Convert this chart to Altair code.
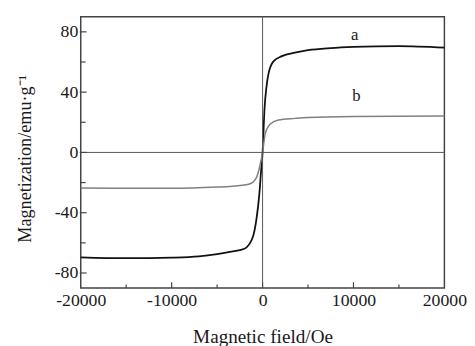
import altair as alt
import pandas as pd

# Curve a (black)
field_a = [-20000, -15000, -10000, -7000, -5000, -3600, -2000, -1080, -650, -360, -170, 0,
           220, 410, 690, 1230, 2130, 3570, 5000, 7500, 10000, 15000, 20000]
mag_a = [-69.6, -70.2, -69.8, -69.0, -67.5, -66.0, -63.9, -56.3, -43.3, -28.0, -13.0, 0.0,
         29.5, 42.5, 53.3, 60.6, 63.9, 66.2, 67.8, 69.2, 70.0, 70.6, 69.6]

# Curve b (gray)
field_b = [-20000, -10000, -5000, -3600, -1440, -710, -280, 0, 290, 830, 1730, 3570, 5000, 10000, 20000]
mag_b = [-23.6, -23.8, -23.0, -22.6, -21.0, -17.1, -8.5, 0.0, 12.2, 18.7, 21.5, 22.6, 23.2, 23.8, 24.1]

# Curve labels
label_text = ["a", "b"]
label_x = [10130, 10310]
label_y = [74.6, 33.8]

# Axis ticks
x_tick_labels = [-20000, -10000, 0, 10000, 20000]
y_tick_labels = [-80, -40, 0, 40, 80]
x_major_ticks = [-10000, 0, 10000]
x_minor_ticks = [-15000, -5000, 5000, 15000]
y_major_ticks = [-80, -40, 0, 40, 80]
y_minor_ticks = [-60, -20, 20, 60]

W, H = 370, 276
FONT = "Liberation Serif"
XT = "Magnetic field/Oe"
YT = "Magnetization/emu·g⁻¹"

xs = alt.Scale(domain=[-20000, 20000], nice=False, zero=False)
ys = alt.Scale(domain=[-90, 90], nice=False, zero=False)

x_axis = alt.Axis(
    values=x_tick_labels, labelExpr="'' + datum.value", grid=False, domain=False, ticks=False,
    labelPadding=4, labelFont=FONT, labelFontSize=18, labelColor="#1a1a1a", labelFlush=False,
    titleFont=FONT, titleFontSize=19.5, titleFontWeight="normal", titleColor="#1a1a1a",
    titleBaseline="alphabetic", titleY=55, titleX=185, titleAlign="center")
y_axis = alt.Axis(
    values=y_tick_labels, labelExpr="'' + datum.value", grid=False, domain=False, ticks=False,
    labelPadding=3, labelFont=FONT, labelFontSize=18, labelColor="#1a1a1a",
    titleFont=FONT, titleFontSize=18.5, titleFontWeight="normal", titleColor="#1a1a1a",
    titleAngle=-90, titleBaseline="middle", titleAlign="center", titleX=-57, titleY=144)

XA = alt.X("H:Q", scale=xs, title=XT, axis=x_axis)
YA = alt.Y("M:Q", scale=ys, title=YT, axis=y_axis)
X = alt.X("H:Q", scale=xs, title=XT)
Y = alt.Y("M:Q", scale=ys, title=YT)

df_a = pd.DataFrame({"H": field_a, "M": mag_a})
df_b = pd.DataFrame({"H": field_b, "M": mag_b})

line_a = alt.Chart(df_a).mark_line(color="#111111", strokeWidth=1.8, interpolate="monotone").encode(
    x=XA, y=YA)
line_b = alt.Chart(df_b).mark_line(color="#808080", strokeWidth=1.5, interpolate="monotone").encode(
    x=X, y=Y)

zero_v = alt.Chart(pd.DataFrame({"H": [0]})).mark_rule(color="#555555", strokeWidth=1).encode(x=X)
zero_h = alt.Chart(pd.DataFrame({"M": [0]})).mark_rule(color="#555555", strokeWidth=1).encode(y=Y)

xmaj = alt.Chart(pd.DataFrame({"H": x_major_ticks})).mark_rule(color="#444444", strokeWidth=1.2).encode(
    x=X, y=alt.value(H), y2=alt.value(H - 6))
xmin = alt.Chart(pd.DataFrame({"H": x_minor_ticks})).mark_rule(color="#444444", strokeWidth=1.2).encode(
    x=X, y=alt.value(H), y2=alt.value(H - 3.5))
ymaj = alt.Chart(pd.DataFrame({"M": y_major_ticks})).mark_rule(color="#444444", strokeWidth=1.2).encode(
    y=Y, x=alt.value(-1), x2=alt.value(6))
ymin = alt.Chart(pd.DataFrame({"M": y_minor_ticks})).mark_rule(color="#444444", strokeWidth=1.2).encode(
    y=Y, x=alt.value(0), x2=alt.value(5))

labels = alt.Chart(pd.DataFrame({"t": label_text, "H": label_x, "M": label_y})).mark_text(
    font=FONT, fontSize=17, color="#1a1a1a", align="center", baseline="alphabetic").encode(
    x=X, y=Y, text="t:N")

chart = alt.layer(line_a, line_b, zero_v, zero_h, xmaj, xmin, ymaj, ymin, labels).properties(
    width=W, height=H,
    autosize=alt.AutoSizeParams(type="none"),
    padding={"left": 74, "top": 6, "right": 23, "bottom": 56},
).configure_view(stroke="#444444", strokeWidth=1.5)

chart.save("out.html", embed_options={"renderer": "svg", "actions": False})
